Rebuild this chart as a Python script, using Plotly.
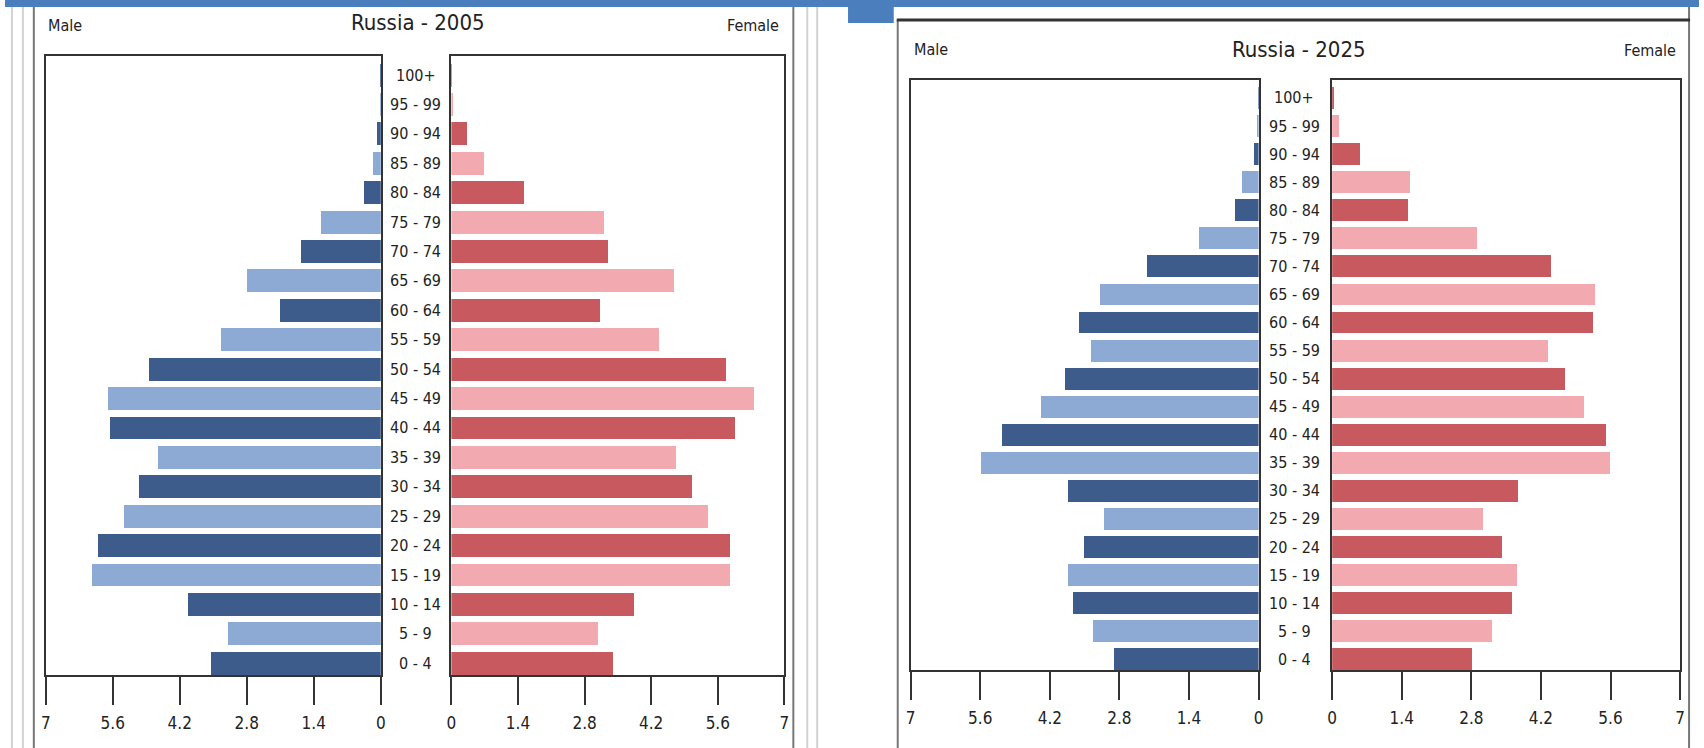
import plotly.graph_objects as go

W, H = 1704, 748

age_groups = ["0 - 4", "5 - 9", "10 - 14", "15 - 19", "20 - 24", "25 - 29", "30 - 34",
              "35 - 39", "40 - 44", "45 - 49", "50 - 54", "55 - 59", "60 - 64", "65 - 69",
              "70 - 74", "75 - 79", "80 - 84", "85 - 89", "90 - 94", "95 - 99", "100+"]

male_2005 = [3.56, 3.19, 4.03, 6.03, 5.91, 5.37, 5.05, 4.67, 5.66, 5.71, 4.85,
             3.35, 2.11, 2.79, 1.68, 1.25, 0.36, 0.16, 0.09, 0.02, 0.01]
female_2005 = [3.40, 3.08, 3.85, 5.87, 5.87, 5.41, 5.07, 4.73, 5.96, 6.37, 5.78,
               4.37, 3.13, 4.69, 3.31, 3.22, 1.54, 0.70, 0.34, 0.05, 0.02]
male_2025 = [2.91, 3.33, 3.74, 3.85, 3.52, 3.11, 3.85, 5.59, 5.17, 4.39, 3.91,
             3.37, 3.63, 3.20, 2.26, 1.20, 0.48, 0.35, 0.10, 0.02, 0.01]
female_2025 = [2.82, 3.21, 3.62, 3.73, 3.43, 3.04, 3.75, 5.60, 5.51, 5.06, 4.69,
               4.34, 5.25, 5.30, 4.41, 2.91, 1.52, 1.56, 0.57, 0.15, 0.04]

tick_vals = [0, 1.4, 2.8, 4.2, 5.6, 7]
tick_text = ["0", "1.4", "2.8", "4.2", "5.6", "7"]

titles = ["Russia - 2005", "Russia - 2025"]
side_labels = ["Male", "Female"]

FONT = "DejaVu Sans Condensed, DejaVu Sans, sans-serif"
TXT = "#222222"
AX = "#333333"
DARK_BLUE, LIGHT_BLUE = "#3d5b8b", "#8caad4"
DARK_RED, LIGHT_RED = "#c8595e", "#f2a9af"

male_cols = [DARK_BLUE if i % 2 == 0 else LIGHT_BLUE for i in range(len(age_groups))]
female_cols = [DARK_RED if i % 2 == 0 else LIGHT_RED for i in range(len(age_groups))]

fig = go.Figure()

series = [(male_2005, male_cols, "x", "y"), (female_2005, female_cols, "x2", "y2"),
          (male_2025, male_cols, "x3", "y3"), (female_2025, female_cols, "x4", "y4")]
for vals, cols, xa, ya in series:
    fig.add_trace(go.Bar(x=vals, y=age_groups, orientation="h", width=0.78,
                         marker=dict(color=cols, line=dict(width=0)),
                         xaxis=xa, yaxis=ya, showlegend=False, hoverinfo="x+y"))


def px(v):
    return v / W


def py(v):
    return 1 - v / H


def xax(domain, rng, anchor):
    return dict(domain=[px(domain[0]), px(domain[1])], range=rng, anchor=anchor,
                showline=True, linecolor=AX, linewidth=2, mirror=True,
                showgrid=False, zeroline=False, ticks="outside", ticklen=28,
                tickwidth=1.5, tickcolor=AX, tickvals=tick_vals, ticktext=tick_text,
                ticklabelstandoff=4,
                tickfont=dict(family=FONT, size=17, color=TXT), fixedrange=True)


def yax(domain, rng, anchor):
    return dict(domain=[py(domain[1]), py(domain[0])], range=rng, anchor=anchor,
                type="category", categoryorder="array", categoryarray=age_groups,
                showline=True, linecolor=AX, linewidth=2, mirror=True,
                showgrid=False, zeroline=False, ticks="", showticklabels=False,
                fixedrange=True)


L_TOP, L_BOT = 56, 675
R_TOP, R_BOT = 80, 670
fig.update_layout(
    width=W, height=H, autosize=False,
    margin=dict(l=0, r=0, t=0, b=0),
    paper_bgcolor="white", plot_bgcolor="white",
    bargap=0,
    xaxis=xax((41, 378), [7, 0], "y"),
    yaxis=yax((L_TOP, L_BOT), [-0.4, 20.65], "x"),
    xaxis2=xax((449, 784), [0, 7], "y2"),
    yaxis2=yax((L_TOP, L_BOT), [-0.4, 20.65], "x2"),
    xaxis3=xax((911, 1261), [7, 0], "y3"),
    yaxis3=yax((R_TOP, R_BOT), [-0.38, 20.64], "x3"),
    xaxis4=xax((1335, 1685), [0, 7], "y4"),
    yaxis4=yax((R_TOP, R_BOT), [-0.38, 20.64], "x4"),
)

ann = []
# age labels in the centre columns
for cx, yref in [(413, "y"), (1297, "y3")]:
    for g in age_groups:
        ann.append(dict(x=px(cx), xref="paper", y=g, yref=yref, text=g, showarrow=False,
                        xanchor="center", yanchor="middle",
                        font=dict(family=FONT, size=16, color=TXT)))
# titles
ann.append(dict(x=px(415), y=py(22), xref="paper", yref="paper", text=titles[0],
                showarrow=False, xanchor="center", yanchor="middle",
                font=dict(family=FONT, size=22, color=TXT)))
ann.append(dict(x=px(1302), y=py(49), xref="paper", yref="paper", text=titles[1],
                showarrow=False, xanchor="center", yanchor="middle",
                font=dict(family=FONT, size=22, color=TXT)))
# Male / Female
for (x, y, t, xa) in [(41, 25, side_labels[0], "left"), (781, 25, side_labels[1], "right"),
                      (912, 49, side_labels[0], "left"), (1683, 50, side_labels[1], "right")]:
    ann.append(dict(x=px(x), y=py(y), xref="paper", yref="paper", text=t, showarrow=False,
                    xanchor=xa, yanchor="middle", font=dict(family=FONT, size=16, color=TXT)))
fig.update_layout(annotations=ann)

shapes = []
BLUE = "#4a7ebd"
shapes.append(dict(type="rect", xref="paper", yref="paper", x0=0, x1=1, y0=py(7), y1=1,
                   fillcolor=BLUE, line=dict(width=0), layer="above"))
shapes.append(dict(type="rect", xref="paper", yref="paper", x0=px(848), x1=px(894),
                   y0=py(23), y1=1, fillcolor=BLUE, line=dict(width=0), layer="above"))
for x in (7, 18, 807, 817):
    shapes.append(dict(type="line", xref="paper", yref="paper", x0=px(x), x1=px(x),
                       y0=py(7), y1=0, line=dict(color="#d2d2d2", width=2)))
for x, y0 in ((29, 7), (793, 7), (898, 20), (1694, 7)):
    shapes.append(dict(type="line", xref="paper", yref="paper", x0=px(x), x1=px(x),
                       y0=py(y0), y1=0, line=dict(color="#777777", width=2)))
shapes.append(dict(type="line", xref="paper", yref="paper", x0=px(897), x1=px(1695),
                   y0=py(20), y1=py(20), line=dict(color="#333333", width=3)))
fig.update_layout(shapes=shapes)

fig.write_html("out.html", config={"displayModeBar": False},
               post_script="document.body.style.margin='0';document.body.style.padding='0';"
                           "document.body.style.overflow='hidden';")
